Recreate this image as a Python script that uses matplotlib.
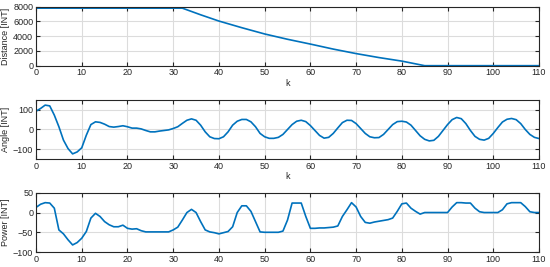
import numpy as np
from matplotlib import pyplot as plt

plt.rcParams['font.family'] = ['Liberation Sans', 'DejaVu Sans']

# Data
k_dist = [0, 32, 36, 40, 45, 50, 55, 60, 65, 70, 75, 80, 85, 110]
distance = [7800, 7800, 6900, 6050, 5150, 4300, 3580, 2930, 2250, 1640, 1100, 620, 0, 0]

k = np.arange(0, 111)
angle = [93, 107, 124, 120, 73, 14, -54, -97, -124, -114,
         -93, -29, 25, 39, 36, 27, 15, 12, 15, 19,
         14, 7, 7, 3, -5, -12, -12, -8, -5, -2,
         5, 14, 31, 47, 54, 47, 22, -12, -37, -46,
         -47, -37, -12, 22, 42, 51, 51, 39, 14, -20,
         -37, -45, -45, -40, -25, 0, 25, 42, 47, 40,
         20, -5, -30, -44, -40, -20, 8, 35, 47, 46,
         30, 5, -20, -37, -42, -41, -25, 0, 25, 40,
         42, 38, 22, -5, -32, -50, -58, -55, -35, -5,
         25, 50, 61, 55, 30, -5, -35, -50, -54, -45,
         -20, 10, 38, 52, 56, 50, 30, 0, -25, -40,
         -46]
power = [13, 21, 25, 24, 11, -44, -54, -69, -82, -76,
         -65, -48, -14, -2, -10, -23, -31, -36, -36, -32,
         -40, -42, -41, -46, -49, -49, -49, -49, -49, -49,
         -44, -37, -19, 0, 8, 0, -23, -44, -49, -51,
         -54, -51, -48, -36, 0, 17, 17, 3, -23, -49,
         -50, -50, -50, -50, -47, -19, 24, 24, 24, -10,
         -40, -40, -39, -39, -38, -37, -34, -10, 7, 25,
         14, -10, -25, -27, -24, -22, -20, -18, -14, 3,
         22, 24, 11, 3, -4, 0, 0, 0, 0, 0,
         0, 14, 25, 25, 24, 24, 11, 2, 0, 0,
         0, 0, 7, 22, 25, 25, 25, 15, 2, 0,
         0]

blue = '#0072BD'

fig = plt.figure(figsize=(5.5, 2.67), dpi=100)

positions = [[0.0655, 0.754, 0.9145, 0.221],
             [0.0655, 0.4045, 0.9145, 0.221],
             [0.0655, 0.056, 0.9145, 0.222]]

ax1 = fig.add_axes(positions[0])
ax2 = fig.add_axes(positions[1])
ax3 = fig.add_axes(positions[2])

ax1.plot(k_dist, distance, color=blue, linewidth=1.2)
ax1.set_ylim(0, 8000)
ax1.set_yticks([0, 2000, 4000, 6000, 8000])
ax1.set_ylabel('Distance [INT]')
ax1.set_xlabel('k', labelpad=1)

ax2.plot(k, angle, color=blue, linewidth=1.2)
ax2.set_ylim(-150, 150)
ax2.set_yticks([-100, 0, 100])
ax2.set_ylabel('Angle [INT]')
ax2.set_xlabel('k', labelpad=1)

ax3.plot(k, power, color=blue, linewidth=1.2)
ax3.set_ylim(-100, 50)
ax3.set_yticks([-100, -50, 0, 50])
ax3.set_ylabel('Power [INT]')

for ax in (ax1, ax2, ax3):
    ax.set_xlim(0, 110)
    ax.set_xticks(range(0, 111, 10))
    ax.grid(True, color='#dcdcdc', linewidth=0.8)
    ax.set_axisbelow(True)
    ax.tick_params(direction='in', length=3, width=0.8, top=True, right=True,
                   labelsize=6.5, pad=2, colors='#262626')
    ax.yaxis.label.set_size(6.5)
    ax.xaxis.label.set_size(6.5)
    ax.yaxis.label.set_color('#262626')
    ax.xaxis.label.set_color('#262626')
    ax.yaxis.labelpad = 2
    for s in ax.spines.values():
        s.set_linewidth(0.8)
        s.set_color('#262626')

fig.savefig('out.png', dpi=100)
